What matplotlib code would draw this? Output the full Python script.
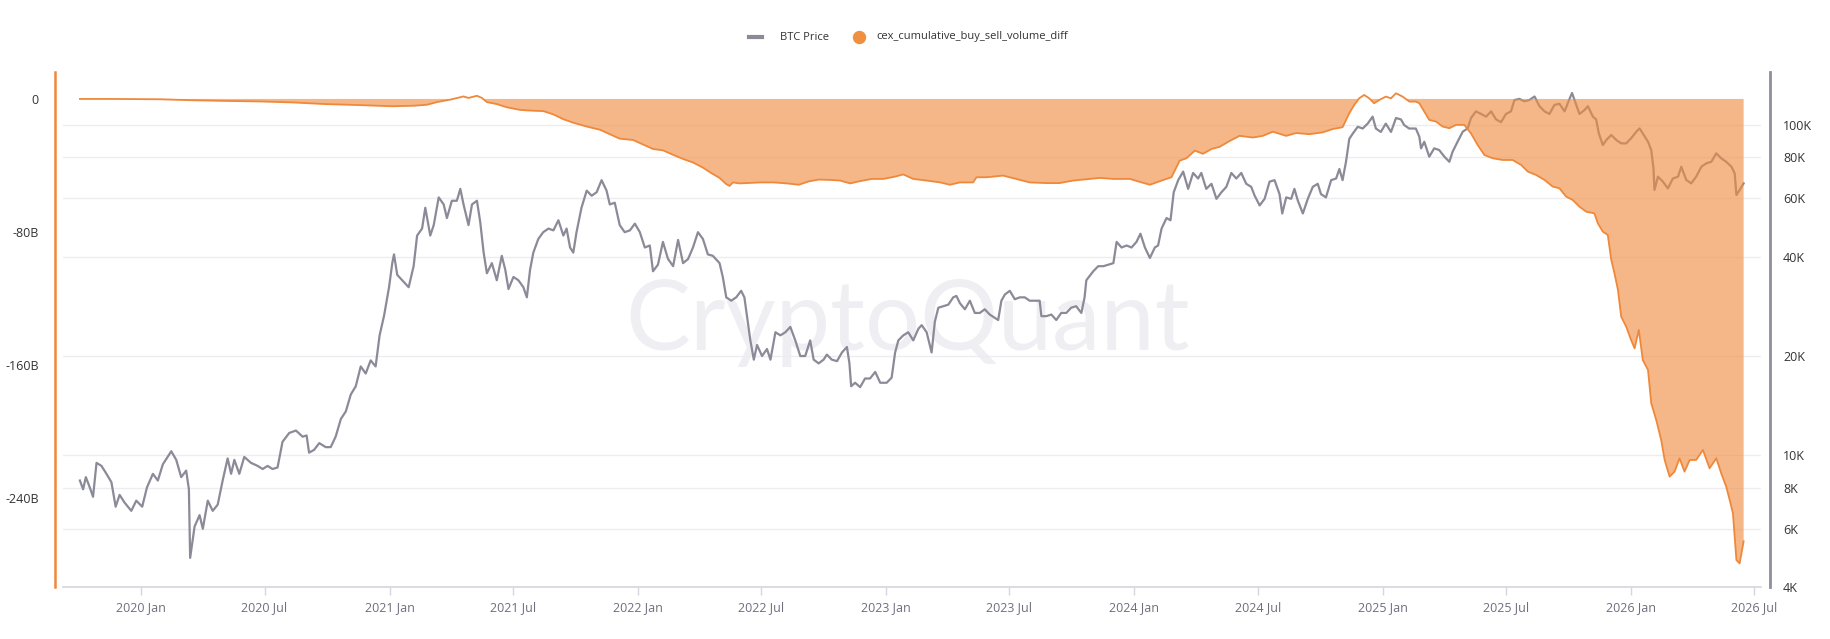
import numpy as np
import matplotlib
matplotlib.use("Agg")
import matplotlib.pyplot as plt
import matplotlib.dates as mdates
from matplotlib.ticker import FixedLocator, FuncFormatter, NullLocator
from matplotlib.lines import Line2D
from datetime import datetime

plt.rcParams['font.family'] = ['Open Sans', 'DejaVu Sans']

# BTC price (thousand USD), dates as decimal years
price_years = [
    2019.754, 2019.767, 2019.778, 2019.794, 2019.807, 2019.821, 2019.841, 2019.861, 2019.881, 2019.898,
    2019.914, 2019.934, 2019.961, 2019.981, 2020.005, 2020.024, 2020.048, 2020.068, 2020.088, 2020.122,
    2020.142, 2020.162, 2020.182, 2020.193, 2020.198, 2020.216, 2020.236, 2020.249, 2020.269, 2020.289,
    2020.309, 2020.329, 2020.349, 2020.363, 2020.376, 2020.396, 2020.416, 2020.443, 2020.470, 2020.490,
    2020.510, 2020.530, 2020.550, 2020.570, 2020.597, 2020.624, 2020.651, 2020.667, 2020.677, 2020.697,
    2020.718, 2020.744, 2020.764, 2020.784, 2020.805, 2020.825, 2020.845, 2020.865, 2020.885, 2020.905,
    2020.925, 2020.945, 2020.961, 2020.979, 2020.999, 2021.012, 2021.019, 2021.032,
    2021.078, 2021.098, 2021.112, 2021.132, 2021.145, 2021.165, 2021.179, 2021.199, 2021.219, 2021.232,
    2021.252, 2021.272, 2021.286, 2021.299, 2021.319, 2021.333, 2021.353, 2021.366, 2021.380, 2021.393,
    2021.413, 2021.433, 2021.453, 2021.467, 2021.480, 2021.500, 2021.520, 2021.540, 2021.554, 2021.567,
    2021.580, 2021.600, 2021.620, 2021.641, 2021.661, 2021.681, 2021.701, 2021.714, 2021.728, 2021.741,
    2021.754, 2021.774, 2021.795, 2021.815, 2021.835, 2021.855, 2021.875, 2021.888, 2021.908, 2021.928,
    2021.948, 2021.969, 2021.989, 2022.009, 2022.029, 2022.049, 2022.062, 2022.082, 2022.102, 2022.122,
    2022.143, 2022.163, 2022.183, 2022.203, 2022.223, 2022.243, 2022.263, 2022.283, 2022.303, 2022.330,
    2022.343, 2022.357, 2022.377, 2022.397, 2022.417, 2022.430,
    2022.454, 2022.468, 2022.481, 2022.501, 2022.521, 2022.535, 2022.555, 2022.575, 2022.595, 2022.615,
    2022.635, 2022.655, 2022.675, 2022.695, 2022.709, 2022.729, 2022.749, 2022.762, 2022.782, 2022.803,
    2022.823, 2022.843, 2022.853, 2022.860, 2022.876, 2022.896, 2022.916, 2022.936, 2022.957, 2022.977,
    2023.003, 2023.023, 2023.037, 2023.050, 2023.070, 2023.090, 2023.110, 2023.131, 2023.144, 2023.164,
    2023.184, 2023.197, 2023.211, 2023.231, 2023.251, 2023.271, 2023.284, 2023.298, 2023.318, 2023.338,
    2023.358, 2023.378, 2023.398, 2023.418, 2023.438, 2023.452, 2023.465, 2023.479, 2023.499, 2023.519,
    2023.539, 2023.559, 2023.579, 2023.606, 2023.619, 2023.626, 2023.646, 2023.666, 2023.686, 2023.706,
    2023.726, 2023.746, 2023.766, 2023.787, 2023.800, 2023.807,
    2023.835, 2023.855, 2023.876, 2023.896, 2023.916, 2023.929, 2023.949, 2023.969, 2023.989, 2024.009,
    2024.025, 2024.043, 2024.063, 2024.083, 2024.096, 2024.110, 2024.130, 2024.146, 2024.159, 2024.177,
    2024.197, 2024.217, 2024.237, 2024.257, 2024.270, 2024.290, 2024.311, 2024.331, 2024.351, 2024.371,
    2024.391, 2024.411, 2024.431, 2024.451, 2024.471, 2024.485, 2024.505, 2024.525, 2024.545, 2024.565,
    2024.585, 2024.596, 2024.612, 2024.632, 2024.645, 2024.659, 2024.679, 2024.699, 2024.719, 2024.739,
    2024.752, 2024.772, 2024.793, 2024.813, 2024.826, 2024.839, 2024.853, 2024.866, 2024.880, 2024.900,
    2024.920, 2024.940, 2024.960, 2024.973, 2024.993, 2025.013, 2025.034, 2025.054, 2025.074, 2025.087,
    2025.107, 2025.134,
    2025.148, 2025.155, 2025.168, 2025.188, 2025.208, 2025.228, 2025.249, 2025.269, 2025.282, 2025.302,
    2025.323, 2025.343, 2025.356, 2025.376, 2025.397, 2025.417, 2025.437, 2025.457, 2025.477, 2025.497,
    2025.517, 2025.531, 2025.551, 2025.571, 2025.591, 2025.612, 2025.632, 2025.652, 2025.672, 2025.692,
    2025.712, 2025.733, 2025.753, 2025.763, 2025.780, 2025.793, 2025.813, 2025.827, 2025.847, 2025.860,
    2025.871, 2025.887, 2025.901, 2025.921, 2025.941, 2025.961, 2025.981, 2026.001, 2026.022, 2026.035,
    2026.048, 2026.069, 2026.082, 2026.091, 2026.095, 2026.109, 2026.129, 2026.149, 2026.169, 2026.190,
    2026.203, 2026.223, 2026.243, 2026.263, 2026.284, 2026.304, 2026.324, 2026.344, 2026.364, 2026.384,
    2026.405, 2026.418, 2026.425, 2026.438, 2026.454,
]
price_k = [
    8.4, 7.9, 8.6, 8.0, 7.5, 9.5, 9.3, 8.8, 8.3, 7.0,
    7.6, 7.2, 6.8, 7.3, 7.0, 8.0, 8.8, 8.4, 9.4, 10.3,
    9.7, 8.6, 9.0, 7.9, 4.9, 6.1, 6.6, 6.0, 7.3, 6.8,
    7.1, 8.4, 9.8, 8.8, 9.7, 8.8, 9.9, 9.5, 9.3, 9.1,
    9.3, 9.1, 9.2, 11.0, 11.7, 11.9, 11.4, 11.5, 10.2, 10.4,
    10.9, 10.6, 10.6, 11.4, 12.9, 13.6, 15.3, 16.2, 18.6, 17.7,
    19.4, 18.6, 23.1, 26.5, 32.3, 38.2, 40.6, 35.2,
    32.3, 37.4, 46.3, 48.6, 56.2, 46.3, 49.8, 60.4, 57.5, 52.3,
    59.0, 59.0, 64.1, 57.5, 49.8, 57.5, 59.0, 51.0, 41.1, 35.6,
    38.2, 33.9, 40.2, 36.5, 31.9, 34.7, 33.9, 32.3, 30.1, 36.5,
    41.1, 45.2, 47.4, 48.6, 48.0, 51.5, 46.3, 48.6, 42.6, 41.1,
    47.4, 56.2, 63.3, 61.1, 62.6, 68.1, 63.3, 57.5, 58.2, 49.8,
    47.4, 48.0, 50.3, 47.4, 42.6, 43.2, 36.1, 37.8, 44.3, 39.4,
    37.4, 44.9, 38.2, 39.3, 42.6, 47.4, 45.2, 40.6, 40.2, 38.2,
    34.7, 30.1, 29.4, 30.1, 31.5, 30.1,
    22.3, 19.5, 21.6, 20.0, 21.0, 19.5, 23.6, 23.1, 23.6, 24.5,
    22.3, 20.0, 20.0, 22.3, 19.5, 19.0, 19.5, 20.2, 19.5, 19.3,
    20.5, 21.3, 19.0, 16.2, 16.6, 16.1, 17.1, 17.1, 17.9, 16.6,
    16.6, 17.2, 20.5, 22.3, 23.1, 23.6, 22.3, 24.2, 24.8, 23.6,
    20.5, 25.4, 28.0, 28.3, 28.6, 30.1, 30.4, 28.9, 27.7, 29.4,
    27.0, 27.0, 27.7, 26.7, 26.1, 25.7, 29.4, 30.7, 31.5, 29.7,
    30.1, 30.1, 29.4, 29.4, 29.4, 26.4, 26.4, 26.7, 25.7, 27.0,
    27.0, 28.0, 28.3, 27.0, 30.1, 33.9,
    36.1, 37.4, 37.4, 37.8, 38.2, 44.3, 42.6, 43.2, 42.6, 44.3,
    46.9, 42.6, 39.6, 42.6, 43.2, 48.6, 52.3, 51.5, 62.6, 68.1,
    72.3, 64.1, 71.6, 68.9, 71.6, 64.1, 66.4, 59.8, 62.6, 65.0,
    71.6, 68.9, 71.6, 66.4, 65.0, 61.1, 57.1, 59.8, 67.4, 68.1,
    61.8, 54.0, 60.4, 59.8, 64.1, 59.0, 54.0, 59.8, 65.0, 66.4,
    61.8, 60.4, 68.1, 68.9, 73.6, 68.1, 77.6, 90.8, 94.2, 98.8,
    97.6, 101, 106, 97.6, 95.3, 101, 95.3, 105, 104, 100,
    97.6, 97.6,
    92.2, 85.0, 89.0, 80.2, 85.0, 84.0, 80.2, 77.4, 83.0, 89.0,
    95.5, 97.7, 105, 110, 108, 106, 110, 104, 102, 108,
    110, 119, 120, 118, 119, 122, 114, 110, 108, 115,
    116, 110, 120, 125, 115, 108, 111, 114, 106, 104,
    94.3, 87.0, 90.1, 93.3, 90.1, 88.0, 88.0, 91.2, 95.5, 97.7,
    94.3, 89.0, 84.0, 73.9, 63.6, 69.8, 67.4, 64.3, 68.9, 69.8,
    74.8, 68.2, 66.6, 69.8, 74.8, 76.6, 77.4, 82.1, 79.3, 77.4,
    74.8, 71.4, 61.4, 63.6, 66.6,
]

# cex_cumulative_buy_sell_volume_diff (billion USD)
flow_years = [
    2019.754, 2019.874, 2020.075, 2020.209, 2020.343, 2020.477, 2020.610, 2020.744, 2020.878, 2021.012,
    2021.098, 2021.152, 2021.192, 2021.246, 2021.299, 2021.319, 2021.353, 2021.373, 2021.393, 2021.433,
    2021.473, 2021.527, 2021.580, 2021.620, 2021.661, 2021.701, 2021.741, 2021.795, 2021.848, 2021.888,
    2021.928, 2021.982, 2022.022, 2022.062, 2022.102, 2022.143, 2022.183, 2022.223, 2022.263, 2022.297,
    2022.330, 2022.357, 2022.370, 2022.384, 2022.410, 2022.495, 2022.548, 2022.602, 2022.649, 2022.689,
    2022.729, 2022.776, 2022.816, 2022.856, 2022.890, 2022.943, 2022.990, 2023.037, 2023.070, 2023.110,
    2023.164, 2023.218, 2023.258, 2023.298, 2023.351, 2023.365, 2023.405, 2023.472, 2023.525, 2023.579,
    2023.646, 2023.699, 2023.753, 2023.862, 2023.916, 2023.983, 2024.016, 2024.063, 2024.110, 2024.150,
    2024.183, 2024.210, 2024.244, 2024.277, 2024.311, 2024.344, 2024.384, 2024.424, 2024.478, 2024.518,
    2024.558, 2024.612, 2024.652, 2024.705, 2024.759, 2024.799, 2024.839,
    2024.866, 2024.886, 2024.906, 2024.926, 2024.946, 2024.966, 2024.987, 2025.013, 2025.034, 2025.054,
    2025.081, 2025.108, 2025.134, 2025.148, 2025.168, 2025.188, 2025.215, 2025.242, 2025.269, 2025.296,
    2025.329, 2025.356, 2025.383, 2025.410, 2025.444, 2025.484, 2025.524, 2025.558, 2025.585, 2025.618,
    2025.652, 2025.685, 2025.712, 2025.739, 2025.766, 2025.793, 2025.820, 2025.853, 2025.867, 2025.887,
    2025.907, 2025.921, 2025.934, 2025.948, 2025.961, 2025.981, 2026.001, 2026.015, 2026.032, 2026.048,
    2026.069, 2026.082, 2026.102, 2026.122, 2026.136, 2026.156, 2026.176, 2026.196, 2026.216, 2026.237,
    2026.263, 2026.290, 2026.317, 2026.344, 2026.364, 2026.384, 2026.398, 2026.411, 2026.425, 2026.438,
    2026.454,
]
flow_b = [
    0.0, 0.0, -0.2, -0.8, -1.2, -1.5, -2.1, -3.1, -3.7, -4.4,
    -4.1, -3.5, -1.9, -0.4, 1.5, 0.6, 1.9, 0.6, -1.9, -3.1,
    -5.0, -6.6, -7.1, -7.3, -9.3, -12.2, -14.3, -16.6, -18.5, -21.2,
    -23.9, -24.7, -27.4, -30.1, -30.9, -33.6, -36.1, -38.2, -41.3, -44.6,
    -47.5, -51.2, -52.3, -50.2, -50.8, -50.2, -50.2, -50.8, -51.6, -49.6,
    -48.5, -48.7, -49.1, -50.8, -49.6, -48.1, -48.1, -46.7, -45.4, -48.1,
    -49.1, -50.2, -51.6, -50.2, -50.2, -47.1, -47.1, -46.1, -48.1, -50.2,
    -50.6, -50.6, -49.1, -47.5, -48.1, -48.1, -49.6, -51.6, -49.1, -47.1,
    -37.1, -35.7, -31.1, -33.0, -30.1, -28.8, -25.3, -22.2, -23.2, -22.2,
    -19.7, -22.2, -20.5, -21.2, -20.1, -18.1, -17.0,
    -8.6, -3.6, 0.4, 2.4, 0.4, -2.6, -0.6, 1.4, 0.4, 3.4,
    1.4, -1.6, -1.6, -2.6, -7.6, -12.6, -13.6, -16.6, -17.6, -15.6,
    -15.6, -20.7, -27.7, -33.7, -35.7, -36.7, -36.7, -39.7, -43.7, -45.7,
    -48.7, -52.7, -53.7, -58.7, -60.8, -64.8, -67.8, -68.8, -74.8, -79.8,
    -81.8, -96.8, -104.9, -114.9, -130.9, -136.9, -145.0, -150.0, -138.9, -157.0,
    -163.0, -183.0, -193.0, -205.1, -217.1, -227.1, -224.1, -216.1, -224.1, -217.1,
    -217.1, -211.1, -222.1, -216.1, -225.2, -233.2, -241.2, -249.2, -277.3, -279.3,
    -266.0,
]

price_ticks = [4, 6, 8, 10, 20, 40, 60, 80, 100]
flow_ticks = [0, -80, -160, -240]


def to_num(years):
    base = mdates.date2num(datetime(2019, 1, 1))
    return base + (np.asarray(years) - 2019.0) * 365.25


W, H = 1830, 639
fig = plt.figure(figsize=(W / 100, H / 100), dpi=100)
ax_p = fig.add_axes([63 / W, 1 - 587 / H, (1761 - 63) / W, (587 - 72) / H])
ax_v = ax_p.twinx()

px = to_num(price_years)
vx = to_num(flow_years)
flow = np.array(flow_b)

# watermark
ax_p.text(0.4977, 0.46, 'CryptoQuant', transform=ax_p.transAxes, ha='center', va='baseline',
          fontsize=70, color='#EFEFF3', family=['Lato', 'DejaVu Sans'], zorder=0)

ax_p.plot(px, price_k, color='#8B8A98', lw=1.6, zorder=2)
ax_p.set_yscale('log')
ax_p.set_ylim(4, 144.7)
ax_p.yaxis.set_major_locator(FixedLocator(price_ticks))
ax_p.yaxis.set_minor_locator(NullLocator())
ax_p.yaxis.set_major_formatter(FuncFormatter(lambda v, p: '%gK' % v))
ax_p.yaxis.tick_right()
ax_p.grid(True, axis='y', color='#EDEDF1', lw=1)
ax_p.set_axisbelow(True)

ax_v.fill_between(vx, flow, 0, where=flow <= 0, interpolate=True, color='#F08C3E', alpha=0.62, lw=0)
ax_v.plot(vx, flow, color='#F0883A', lw=1.3)
ax_v.set_ylim(-293.5, 16.2)
ax_v.yaxis.set_major_locator(FixedLocator(flow_ticks))
ax_v.yaxis.set_major_formatter(FuncFormatter(lambda v, p: '0' if v == 0 else '%dB' % v))
ax_v.yaxis.tick_left()

ax_p.set_xlim(to_num(2019.686), to_num(2026.524))
ax_p.xaxis.set_major_locator(mdates.MonthLocator(bymonth=[1, 7]))
ax_p.xaxis.set_major_formatter(mdates.DateFormatter('%Y %b'))

for s in ['top', 'left']:
    ax_p.spines[s].set_visible(False)
for s in ['top', 'right', 'bottom']:
    ax_v.spines[s].set_visible(False)
ax_p.spines['right'].set_position(('outward', 6.5))
ax_p.spines['right'].set_color('#8F8E9C')
ax_p.spines['right'].set_linewidth(2)
ax_p.spines['bottom'].set_color('#D5D6DE')
ax_p.spines['bottom'].set_linewidth(1.2)
ax_v.spines['left'].set_position(('outward', 5.8))
ax_v.spines['left'].set_color('#F0883A')
ax_v.spines['left'].set_linewidth(1.8)

ax_p.tick_params(axis='x', length=5.8, width=1, color='#D5D6DE', pad=4,
                 labelsize=9, labelcolor='#6E6E7E')
ax_p.tick_params(axis='y', length=0, pad=9.4, labelsize=9, labelcolor='#333333')
ax_v.tick_params(axis='y', length=0, pad=11.5, labelsize=9, labelcolor='#333333')

# legend drawn by hand at the top centre
ly = 1 - 37 / H
fig.add_artist(Line2D([749 / W, 762 / W], [ly, ly], color='#8B8A98', lw=3))
fig.text(780 / W, ly, 'BTC Price', fontsize=8, color='#333333', va='center')
fig.add_artist(Line2D([859 / W], [ly], marker='o', markersize=8.6, color='#F0903F', lw=0))
fig.text(876 / W, ly, 'cex_cumulative_buy_sell_volume_diff', fontsize=8, color='#333333', va='center')

fig.savefig('out.png', dpi=100)
